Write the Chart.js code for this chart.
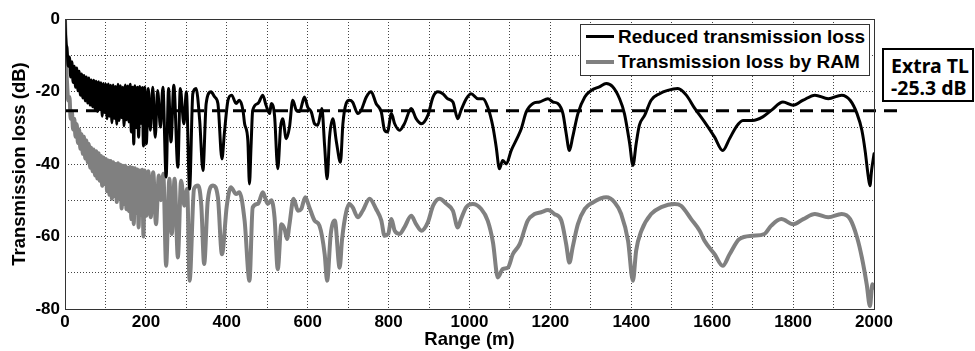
<!DOCTYPE html>
<html>
<head>
<meta charset="utf-8">
<script src="https://cdn.jsdelivr.net/npm/chart.js@4"></script>
<style>
  html, body { margin: 0; padding: 0; background: #fff; }
  #wrap { position: relative; width: 975px; height: 351px; }
  #legend { position: absolute; left: 580px; top: 24px; width: 288px; height: 50px; border: 1px solid #333; background: #fff;
            font: bold 19px "Liberation Sans", Arial, sans-serif; color: #000; }
  .row { position: absolute; left: 0; height: 24px; line-height: 24px; white-space: nowrap; }
  .swatch { position: absolute; left: 5px; width: 28px; }
  .lbl { position: absolute; left: 37px; top: 0; }
  #extra { position: absolute; left: 882px; top: 48px; width: 92px; height: 54px; border: 2px solid #000; background: #fff;
           font: bold 19.5px "Noto Sans", sans-serif; color: #000; line-height: 22px; padding: 5px 0 0 7px; box-sizing: border-box; }
</style>
</head>
<body>
<div id="wrap">
  <canvas id="c" width="975" height="351"></canvas>
  <div id="legend">
    <div class="row" style="top:0px"><div class="swatch" style="top:10px;height:3px;background:#000"></div><div class="lbl">Reduced transmission loss</div></div>
    <div class="row" style="top:25px"><div class="swatch" style="top:10px;height:4px;background:#808080"></div><div class="lbl">Transmission loss by RAM</div></div>
  </div>
  <div id="extra">Extra TL<br>-25.3 dB</div>
</div>
<script>
// ---------- data ----------
const seriesNames = ["Reduced transmission loss", "Transmission loss by RAM"];
const extraTL = -25.3;
const extraTLRange = [0, 2073];

const xTickLabels = [0, 200, 400, 600, 800, 1000, 1200, 1400, 1600, 1800, 2000];
const yTickLabels = [0, -20, -40, -60, -80];

// near field (dense oscillations), shared ranges (m)
const rangeNear = [0,1,2,3,5,8,11,14,17,20,23,26,29,32,35,38,41,44,47,50,53,56,59,62,65,68,71,74,77,80,83,86,89,92,95,98,
  101,104,107,110,113,116,119,122,125,128,131,134,137,140,143,146,149,152,155,158,161,164,167,170,173,176,179,182,185,188,191,194];

const tlReducedNear = [0,-3.5,-5.5,-7,
  -8.0,-13.0,-10.5,-16.0,-11.8,-17.5,-13.0,-18.8,-13.5,-19.8,-14.4,-21.0,-15.2,-21.8,-15.6,-22.6,-16.0,-23.2,-16.3,-23.8,
  -16.8,-24.2,-16.9,-24.8,-17.2,-25.5,-17.3,-25.0,-17.6,-26.8,-17.8,-25.8,-18.0,-27.5,-17.9,-26.8,-18.3,-28.6,-18.2,-27.4,
  -18.6,-29.0,-18.0,-28.0,-18.4,-27.2,-18.8,-29.5,-18.2,-27.8,-18.5,-28.4,-18.0,-31.2,-18.8,-34.5,-18.4,-30.0,-18.8,-32.6,
  -18.6,-28.8,-18.9,-35.0];

const tlRAMNear = [0,-5,-10,-13.5,
  -17.5,-22.5,-21.5,-27.5,-25.5,-30.5,-27.5,-32.5,-29.0,-34.2,-30.5,-35.8,-31.8,-37.2,-32.5,-38.5,-33.5,-39.5,-34.5,-41.0,
  -35.5,-42.0,-36.0,-43.2,-36.5,-44.0,-37.0,-44.6,-37.8,-46.0,-38.2,-45.5,-38.6,-47.5,-39.0,-48.5,-39.2,-49.6,-39.5,-48.8,
  -40.0,-50.5,-39.8,-49.5,-40.2,-52.3,-40.5,-51.0,-40.5,-52.5,-41.0,-53.0,-40.8,-55.2,-41.0,-56.6,-41.2,-53.5,-41.5,-57.5,
  -41.8,-54.0,-41.6,-60.0];

// far field, reduced TL (black)
const rangeReducedFar = [197,201,206,211,217,223,229,236,242,250,256,262,269,279,285,294,300,308,316,324,333,341,349,361,370,378,388,394,
  403,412,423,431,440,444,452,456,460,464,477,489,497,506,510,518,526,533,538,547,555,563,572,580,592,600,609,617,625,635,642,648,654,
  662,671,681,687,695,703,711,724,732,745,757,769,782,790,797,807,815,827,839,856,868,881,897,910,922,934,946,959,971,979,992,
  1004,1021,1033,1045,1058,1066,1074,1082,1091,1103,1119,1128,1140,1157,1173,1194,1206,1218,1231,1239,1247,1255,1268,1285,1301,
  1321,1338,1354,1371,1383,1396,1404,1412,1420,1433,1449,1470,1490,1515,1536,1556,1581,1606,1626,1643,1659,1676,1700,1725,1746,
  1775,1800,1825,1854,1887,1920,1941,1958,1970,1978,1986,1990,1994,2000];
const tlReducedFar = [-18.8,-34.4,-19.2,-30.7,-18.8,-32.6,-19.7,-29.8,-18.8,-43.6,-19.2,-33.9,-18.3,-40.9,-19.2,-28.9,-20.1,-46.9,-20.6,-19.2,
  -28.0,-41.8,-23.3,-20.1,-21.5,-23.3,-38.6,-31.5,-22.4,-21.0,-23.3,-22.4,-25.2,-28.9,-33.5,-45.5,-35.0,-25.2,-23.3,-21.0,-23.8,
  -26.1,-23.3,-26.6,-41.3,-29.8,-27.5,-33.0,-29.8,-22.4,-25.2,-25.5,-21.5,-24.3,-25.7,-28.9,-29.3,-24.7,-35.3,-44.1,-32.6,-27.5,
  -33.9,-39.5,-28.9,-23.3,-22.4,-22.9,-26.1,-25.2,-21.5,-20.1,-23.3,-25.7,-30.7,-31.2,-26.1,-28.9,-30.7,-28.9,-24.7,-27.5,-28.9,
  -26.6,-21.5,-20.1,-20.6,-22.0,-22.9,-27.5,-25.2,-22.0,-20.6,-22.0,-22.0,-24.3,-29.8,-35.3,-41.3,-39.0,-40.0,-36.3,-32.6,-30.3,
  -25.7,-23.3,-22.9,-22.0,-22.9,-23.3,-26.1,-31.6,-36.3,-32.6,-26.1,-21.5,-19.7,-18.7,-17.8,-18.7,-22.0,-26.1,-34.4,-40.4,-34.4,
  -29.3,-26.6,-22.4,-20.6,-19.7,-19.2,-21.0,-24.5,-28.4,-32.6,-36.3,-33.0,-29.8,-28.0,-28.0,-27.0,-25.2,-22.9,-23.8,-22.4,-21.0,
  -22.0,-21.0,-22.4,-26.1,-30.7,-36.3,-43.6,-46.0,-41.8,-37.2];

// far field, TL by RAM (grey)
const rangeRAMFar = [197,201,206,212,218,225,232,237,243,250,258,264,271,279,287,295,302,308,319,329,337,344,353,366,378,388,400,410,423,
  431,444,456,464,477,489,501,510,518,526,535,543,549,555,565,576,584,594,604,617,629,642,648,657,667,679,685,695,703,711,724,736,
  753,769,782,790,799,807,815,827,839,856,868,881,897,910,926,943,959,971,979,992,1008,1029,1045,1058,1070,1082,1095,1107,1124,
  1144,1161,1177,1194,1210,1227,1239,1247,1255,1268,1285,1305,1338,1359,1375,1392,1404,1412,1425,1449,1474,1507,1523,1548,1569,
  1581,1606,1626,1643,1667,1700,1729,1746,1771,1800,1825,1854,1887,1920,1941,1958,1970,1982,1990,1996,2000];
const tlRAMFar = [-41.8,-54.3,-42.0,-54.7,-42.3,-56.6,-43.2,-50.0,-42.7,-68.1,-44.1,-59.3,-44.1,-65.8,-44.6,-51.5,-46.8,-72.2,-46.8,-45.9,
  -51.5,-67.6,-50.0,-45.9,-49.2,-64.9,-51.5,-46.4,-48.3,-47.8,-55.6,-72.2,-52.0,-51.0,-47.8,-51.0,-50.0,-54.7,-69.0,-56.6,-58.0,
  -60.7,-56.6,-49.6,-52.9,-52.4,-49.2,-51.9,-55.6,-57.0,-64.9,-72.2,-59.3,-55.6,-68.6,-60.7,-53.3,-51.0,-51.9,-54.7,-52.9,-49.6,
  -52.4,-55.6,-59.8,-59.3,-55.2,-58.4,-59.3,-57.5,-54.3,-56.6,-58.4,-56.1,-51.5,-49.6,-51.0,-52.9,-57.5,-55.2,-51.9,-51.0,-52.4,
  -55.6,-61.6,-71.3,-69.0,-68.6,-64.9,-62.1,-55.6,-53.8,-53.3,-52.7,-53.8,-55.6,-62.1,-67.2,-63.0,-56.6,-52.4,-50.6,-49.2,-50.6,
  -53.8,-61.2,-72.2,-63.9,-58.4,-53.8,-51.9,-51.0,-51.5,-55.2,-58.4,-61.2,-64.9,-68.1,-64.9,-60.7,-59.8,-59.3,-57.0,-55.2,-56.6,
  -55.2,-53.8,-54.7,-53.8,-55.2,-60.2,-65.8,-73.2,-79.2,-73.2,-74.1];

// ---------- build datasets ----------
function pts(xs, ys) { const n = Math.min(xs.length, ys.length); const o = []; for (let i = 0; i < n; i++) o.push({x: xs[i], y: ys[i]}); return o; }
const reducedData = pts(rangeNear.concat(rangeReducedFar), tlReducedNear.concat(tlReducedFar));
const ramData = pts(rangeNear.concat(rangeRAMFar), tlRAMNear.concat(tlRAMFar));
const extraData = pts(extraTLRange, [extraTL, extraTL]);

const framePlugin = {
  id: 'frame',
  afterDraw(chart) {
    const a = chart.chartArea, ctx = chart.ctx;
    ctx.save();
    ctx.strokeStyle = '#333';
    ctx.lineWidth = 1;
    ctx.setLineDash([]);
    ctx.strokeRect(Math.round(a.left) + 0.5, Math.round(a.top) + 0.5, Math.round(a.right - a.left), Math.round(a.bottom - a.top));
    ctx.restore();
  }
};

const tickFont = { family: '"Liberation Sans", Arial, sans-serif', size: 17, weight: 'bold' };
const titleFont = { family: '"Liberation Sans", Arial, sans-serif', size: 18.5, weight: 'bold' };

new Chart(document.getElementById('c'), {
  type: 'line',
  data: {
    datasets: [
      { label: 'Extra TL', data: extraData, borderColor: '#000', borderWidth: 3, borderDash: [13, 8], pointRadius: 0, clip: false, fill: false },
      { label: seriesNames[0], data: reducedData, borderColor: '#000', borderWidth: 3, pointRadius: 0, cubicInterpolationMode: 'monotone', fill: false,
        borderJoinStyle: 'round', borderCapStyle: 'round' },
      { label: seriesNames[1], data: ramData, borderColor: '#808080', borderWidth: 4, pointRadius: 0, cubicInterpolationMode: 'monotone', fill: false,
        borderJoinStyle: 'round', borderCapStyle: 'round' }
    ]
  },
  options: {
    responsive: false,
    animation: false,
    devicePixelRatio: 1,
    layout: { padding: { left: 0, top: 19, right: 101, bottom: 0 } },
    plugins: { legend: { display: false }, tooltip: { enabled: false } },
    scales: {
      x: {
        type: 'linear', min: 0, max: 2000,
        afterFit(s) { s.height = 42; },
        ticks: { stepSize: 100, autoSkip: false, maxRotation: 0, color: '#000', font: tickFont, padding: 3,
                 callback: v => xTickLabels.includes(v) ? String(v) : '' },
        grid: { color: '#444', lineWidth: 1, drawTicks: false },
        border: { display: false, dash: [1, 2] },
        title: { display: true, text: 'Range (m)', color: '#000', font: titleFont, padding: { top: 0, bottom: 0 } }
      },
      y: {
        type: 'linear', min: -80, max: 0,
        afterFit(s) { s.width = 65; },
        ticks: { stepSize: 10, autoSkip: false, color: '#000', font: tickFont, padding: 5,
                 callback: v => yTickLabels.includes(v) ? String(v) : '' },
        grid: { color: '#444', lineWidth: 1, drawTicks: false },
        border: { display: false, dash: [1, 2] },
        title: { display: true, text: 'Transmission loss (dB)', color: '#000', font: titleFont, padding: { top: 9, bottom: 0 } }
      }
    }
  },
  plugins: [framePlugin]
});
</script>
</body>
</html>
